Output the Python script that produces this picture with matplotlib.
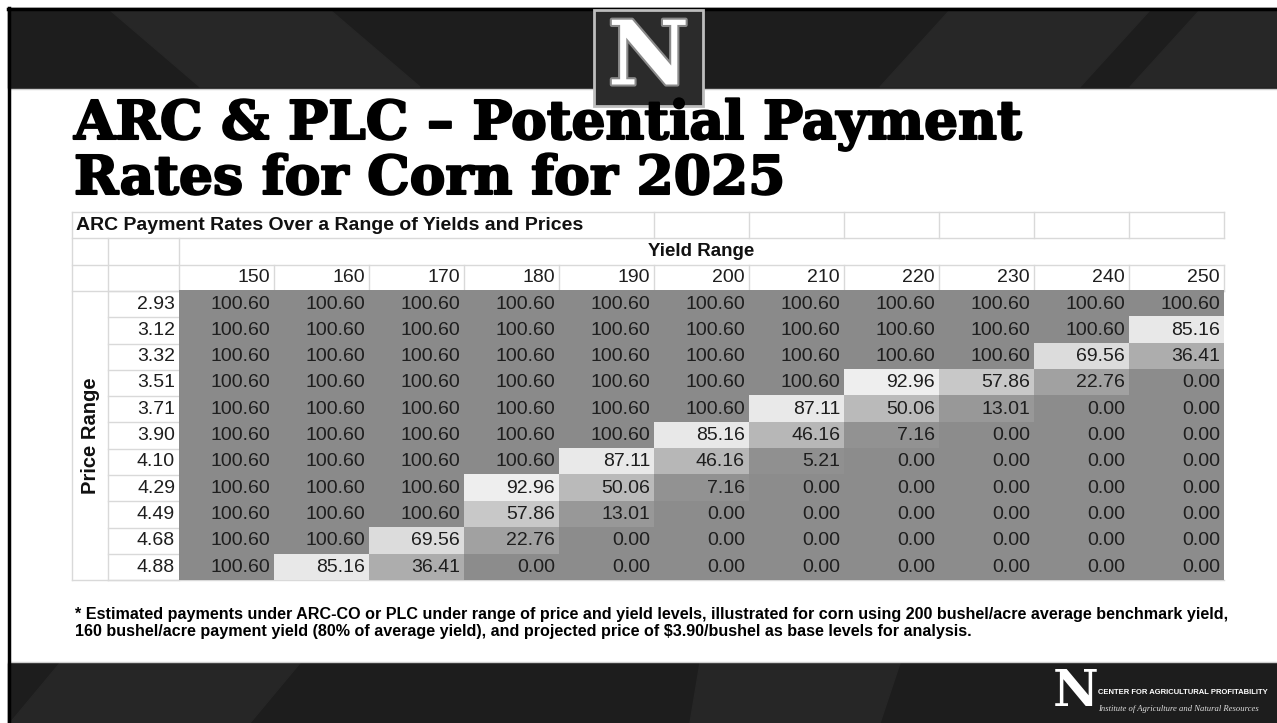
import matplotlib
matplotlib.use("Agg")
import matplotlib.pyplot as plt
import matplotlib.patheffects as pe
from matplotlib.colors import LinearSegmentedColormap, Normalize
from matplotlib.patches import Rectangle, Polygon

# Payment table values ($/acre)
yields = [150, 160, 170, 180, 190, 200, 210, 220, 230, 240, 250]
prices = [2.93, 3.12, 3.32, 3.51, 3.71, 3.90, 4.10, 4.29, 4.49, 4.68, 4.88]
payments = [
    [100.60, 100.60, 100.60, 100.60, 100.60, 100.60, 100.60, 100.60, 100.60, 100.60, 100.60],
    [100.60, 100.60, 100.60, 100.60, 100.60, 100.60, 100.60, 100.60, 100.60, 100.60, 85.16],
    [100.60, 100.60, 100.60, 100.60, 100.60, 100.60, 100.60, 100.60, 100.60, 69.56, 36.41],
    [100.60, 100.60, 100.60, 100.60, 100.60, 100.60, 100.60, 92.96, 57.86, 22.76, 0.00],
    [100.60, 100.60, 100.60, 100.60, 100.60, 100.60, 87.11, 50.06, 13.01, 0.00, 0.00],
    [100.60, 100.60, 100.60, 100.60, 100.60, 85.16, 46.16, 7.16, 0.00, 0.00, 0.00],
    [100.60, 100.60, 100.60, 100.60, 87.11, 46.16, 5.21, 0.00, 0.00, 0.00, 0.00],
    [100.60, 100.60, 100.60, 92.96, 50.06, 7.16, 0.00, 0.00, 0.00, 0.00, 0.00],
    [100.60, 100.60, 100.60, 57.86, 13.01, 0.00, 0.00, 0.00, 0.00, 0.00, 0.00],
    [100.60, 100.60, 69.56, 22.76, 0.00, 0.00, 0.00, 0.00, 0.00, 0.00, 0.00],
    [100.60, 85.16, 36.41, 0.00, 0.00, 0.00, 0.00, 0.00, 0.00, 0.00, 0.00],
]

title_lines = ["ARC & PLC \u2013 Potential Payment", "Rates for Corn for 2025"]
table_title = "ARC Payment Rates Over a Range of Yields and Prices"
footnote = ("* Estimated payments under ARC-CO or PLC under range of price and yield levels, "
            "illustrated for corn using 200 bushel/acre average benchmark yield,\n"
            "160 bushel/acre payment yield (80% of average yield), and projected price of "
            "$3.90/bushel as base levels for analysis.")

# layout in pixels
W, H = 1277, 723
x0, x_price, x_data, col_w = 72, 108, 179, 95
y_top, row_h = 212, 26.3
y_data = y_top + 3 * row_h
n_rows, n_cols = len(prices), len(yields)
x_end = x_data + n_cols * col_w
y_end = y_data + n_rows * row_h
grid = "#d9d9d9"
sans = ["Liberation Sans", "DejaVu Sans"]

fig = plt.figure(figsize=(W / 100, H / 100), dpi=100)
ax = fig.add_axes([0, 0, 1, 1])
ax.set_xlim(0, W)
ax.set_ylim(H, 0)
ax.axis("off")

# slide bands
ax.add_patch(Rectangle((8, 8), W, 80, color="#1d1d1d", zorder=0))
ax.add_patch(Rectangle((8, 663), W, 60, color="#1d1d1d", zorder=0))
for pts in [[(110, 10), (330, 10), (420, 87), (200, 87)],
            [(950, 10), (1150, 10), (1080, 87), (880, 87)],
            [(1277, 10), (1200, 10), (1130, 87), (1277, 87)]]:
    ax.add_patch(Polygon(pts, color="#272727", zorder=0.5))
for pts in [[(60, 663), (300, 663), (250, 723), (10, 723)],
            [(700, 663), (900, 663), (880, 723), (690, 723)]]:
    ax.add_patch(Polygon(pts, color="#262626", zorder=0.5))
ax.plot([8, W], [89, 89], color="#cfcfcf", lw=1, zorder=1)
ax.plot([8, W], [662, 662], color="#cfcfcf", lw=1, zorder=1)
ax.plot([8.5, 8.5], [8, H], color="black", lw=2.5, zorder=3)
ax.plot([8, W], [9, 9], color="black", lw=2.5, zorder=3)

# N logo box at top
ax.add_patch(Rectangle((594, 10), 109, 96, facecolor="#2b2b2b",
                       edgecolor="#bdbdbd", lw=2, zorder=4))
ax.text(648.5, 60, "N", fontsize=64, family="DejaVu Serif", weight="bold",
        color="white", ha="center", va="center", zorder=5,
        path_effects=[pe.withStroke(linewidth=3, foreground="#8a8a8a")])

# slide title
for i, line in enumerate(title_lines):
    ax.text(74, 139 + i * 55, line, fontsize=38.5, family="DejaVu Serif",
            weight="heavy", color="black", ha="left", va="baseline", zorder=6,
            path_effects=[pe.withStroke(linewidth=1.5, foreground="black")])

# heat-map of payments
cmap = LinearSegmentedColormap.from_list(
    "pay", [(0.0, "#8c8c8c"), (0.5, "#bbbbbb"), (0.69, "#dcdcdc"),
            (0.924, "#eeeeee"), (0.95, "#eeeeee"), (1.0, "#8a8a8a")])
ax.imshow(payments, cmap=cmap, norm=Normalize(0, 100.6), interpolation="nearest",
          extent=(x_data, x_end, y_end, y_data), aspect="auto", zorder=2)

# grid lines of the white header cells
for k in range(4):
    ax.plot([x0, x_end], [y_top + k * row_h] * 2, color=grid, lw=1, zorder=1)
for k in range(n_rows + 1):
    ax.plot([x_price, x_data], [y_data + k * row_h] * 2, color=grid, lw=1, zorder=1)
ax.plot([x0, x_end], [y_end, y_end], color=grid, lw=1, zorder=1)
ax.plot([x0, x0], [y_top, y_end], color=grid, lw=1, zorder=1)
ax.plot([x_price, x_price], [y_top + row_h, y_end], color=grid, lw=1, zorder=1)
ax.plot([x_data, x_data], [y_top + row_h, y_data], color=grid, lw=1, zorder=1)
for j in range(1, n_cols + 1):
    ax.plot([x_data + j * col_w] * 2, [y_top + 2 * row_h, y_data], color=grid, lw=1, zorder=1)
for j in range(5, n_cols + 1):
    ax.plot([x_data + j * col_w] * 2, [y_top, y_top + row_h], color=grid, lw=1, zorder=1)

# table texts
ax.text(x0 + 4, y_top + row_h / 2, table_title, fontsize=14, family=sans,
        weight="bold", ha="left", va="center", color="#111111", zorder=6)
ax.text((x_data + x_end) / 2, y_top + 1.5 * row_h, "Yield Range", fontsize=13.5,
        family=sans, weight="bold", ha="center", va="center", color="#111111", zorder=6)
ax.text((x0 + x_price) / 2, (y_data + y_end) / 2, "Price Range", fontsize=14.5,
        family=sans, weight="bold", rotation=90, ha="center", va="center",
        color="#111111", zorder=6)
for j, yl in enumerate(yields):
    ax.text(x_data + (j + 1) * col_w - 4, y_top + 2.5 * row_h, str(yl), fontsize=14,
            family=sans, ha="right", va="center", color="#1e1e1e", zorder=6)
for i, p in enumerate(prices):
    yc = y_data + (i + 0.5) * row_h
    ax.text(x_data - 4, yc, f"{p:.2f}", fontsize=14, family=sans,
            ha="right", va="center", color="#1e1e1e", zorder=6)
    for j, v in enumerate(payments[i]):
        ax.text(x_data + (j + 1) * col_w - 4, yc, f"{v:.2f}", fontsize=14,
                family=sans, ha="right", va="center", color="#1e1e1e", zorder=6)

# footnote
ax.text(75, 623, footnote, fontsize=11.6, family=sans, weight="bold",
        ha="left", va="center", linespacing=1.2, color="black", zorder=6)

# footer logo
ax.text(1076, 692, "N", fontsize=36, family="DejaVu Serif", weight="bold",
        color="white", ha="center", va="center", zorder=6)
ax.text(1098, 692, "CENTER FOR AGRICULTURAL PROFITABILITY", fontsize=5.5,
        family=sans, weight="bold", color="white", ha="left", va="center", zorder=6)
ax.text(1098, 709, "Institute of Agriculture and Natural Resources", fontsize=6.2,
        family=["Liberation Serif", "DejaVu Serif"], style="italic",
        color="#dddddd", ha="left", va="center", zorder=6)

fig.savefig("out.png", dpi=100)
